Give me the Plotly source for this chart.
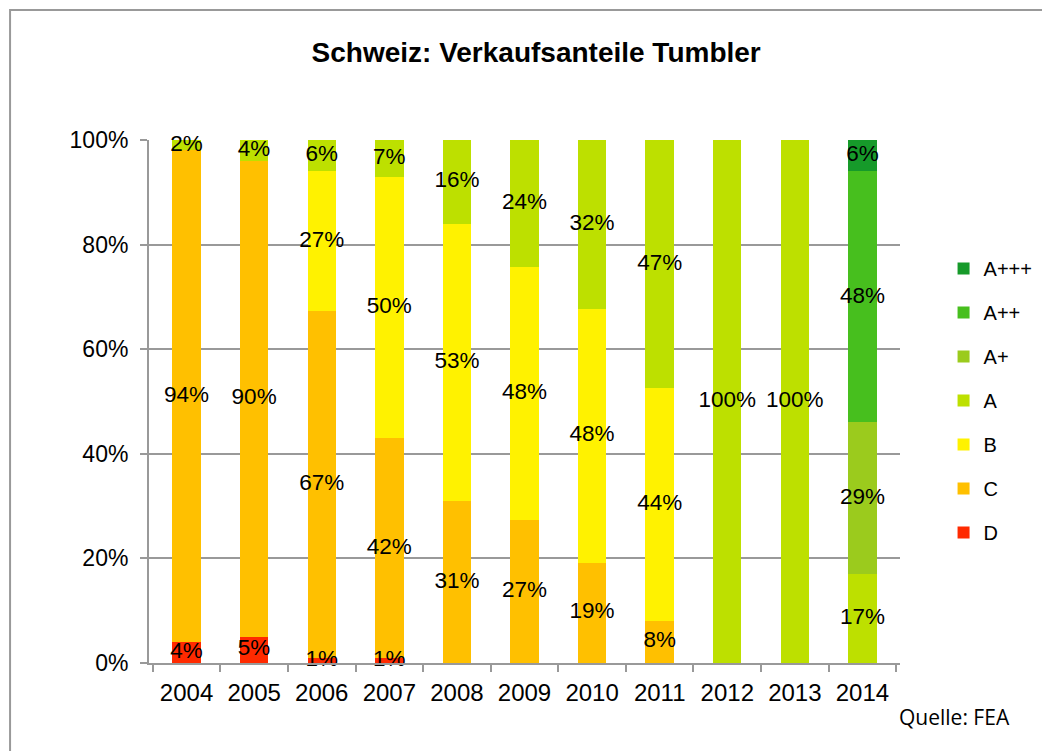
import numpy as np
import plotly.graph_objects as go

years = ["2004", "2005", "2006", "2007", "2008", "2009", "2010", "2011", "2012", "2013", "2014"]
classes = ["D", "C", "B", "A", "A+", "A++", "A+++"]
D    = [4, 5, 1, 1, 0, 0, 0, 0, 0, 0, 0]
C    = [94, 90, 67, 42, 31, 27, 19, 8, 0, 0, 0]
B    = [0, 0, 27, 50, 53, 48, 48, 44, 0, 0, 0]
A    = [2, 4, 6, 7, 16, 24, 32, 47, 100, 100, 17]
Ap   = [0, 0, 0, 0, 0, 0, 0, 0, 0, 0, 29]
App  = [0, 0, 0, 0, 0, 0, 0, 0, 0, 0, 48]
Appp = [0, 0, 0, 0, 0, 0, 0, 0, 0, 0, 6]
series = [D, C, B, A, Ap, App, Appp]
colors = ["#FF2A00", "#FFC000", "#FFF200", "#BDE000", "#9BCB1D", "#47BF1E", "#169A2A"]

fig = go.Figure()

vals = np.array(series, dtype=float)
norm = vals / vals.sum(axis=0) * 100
cum = np.cumsum(norm, axis=0)
mid = cum - norm / 2

for i, (name, s) in enumerate(zip(classes, series)):
    fig.add_trace(go.Bar(
        x=years, y=s, name=name, marker_color=colors[i], marker_line_width=0,
        legendgroup=name, legendrank=100 - i, hoverinfo="x+y+name",
    ))

for i, (name, s) in enumerate(zip(classes, series)):
    xs = [y for y, v in zip(years, s) if v > 0]
    ys = [m for m, v in zip(mid[i], s) if v > 0]
    ts = [f"{v}%" for v in s if v > 0]
    fig.add_trace(go.Scatter(
        x=xs, y=ys, text=ts, mode="text", showlegend=False,
        textfont=dict(family="Liberation Sans", size=22.5, color="#000000"),
        textposition="middle center",
        hoverinfo="skip", cliponaxis=False,
    ))

fig.update_layout(
    width=1050, height=751,
    barmode="stack", barnorm="percent", bargap=0.58,
    paper_bgcolor="white", plot_bgcolor="white",
    margin=dict(l=141, r=158, t=132, b=96),
    title=dict(text="<b>Schweiz: Verkaufsanteile Tumbler</b>", x=0.503, xanchor="center",
               y=0.941, yanchor="middle",
               font=dict(family="Liberation Sans", size=28, color="#000000")),
    font=dict(family="Liberation Sans", size=22, color="#000000"),
    legend=dict(x=1.058, xanchor="left", y=0.7916, yanchor="top",
                traceorder="grouped", tracegroupgap=15,
                font=dict(family="Liberation Sans", size=20, color="#000000"),
                itemwidth=30),
    showlegend=True,
    shapes=[dict(type="rect", xref="paper", yref="paper", x0=-0.185, x1=1.3, y0=-0.3, y1=1.2486,
                 line=dict(color="#999999", width=2), layer="below")],
    annotations=[dict(text="Quelle: FEA", xref="paper", yref="paper", x=0.996, y=-0.103,
                      xanchor="left", yanchor="middle", showarrow=False,
                      font=dict(family="Open Sans", size=21, color="#000000"))],
)

fig.update_xaxes(type="category", showline=True, linecolor="#999999", linewidth=2,
                 ticks="outside", tickson="boundaries", ticklen=7, tickcolor="#999999",
                 tickwidth=2, showgrid=False, ticklabelstandoff=7,
                 tickfont=dict(family="Liberation Sans", size=24))
fig.update_yaxes(range=[0, 100], dtick=20, ticksuffix="%", showline=True, linecolor="#999999",
                 linewidth=2, ticks="outside", ticklen=7, tickcolor="#999999", tickwidth=2,
                 showgrid=True, gridcolor="#999999", gridwidth=2, zeroline=False,
                 ticklabelstandoff=7,
                 tickfont=dict(family="Liberation Sans", size=23))

fig.write_html("out.html")
